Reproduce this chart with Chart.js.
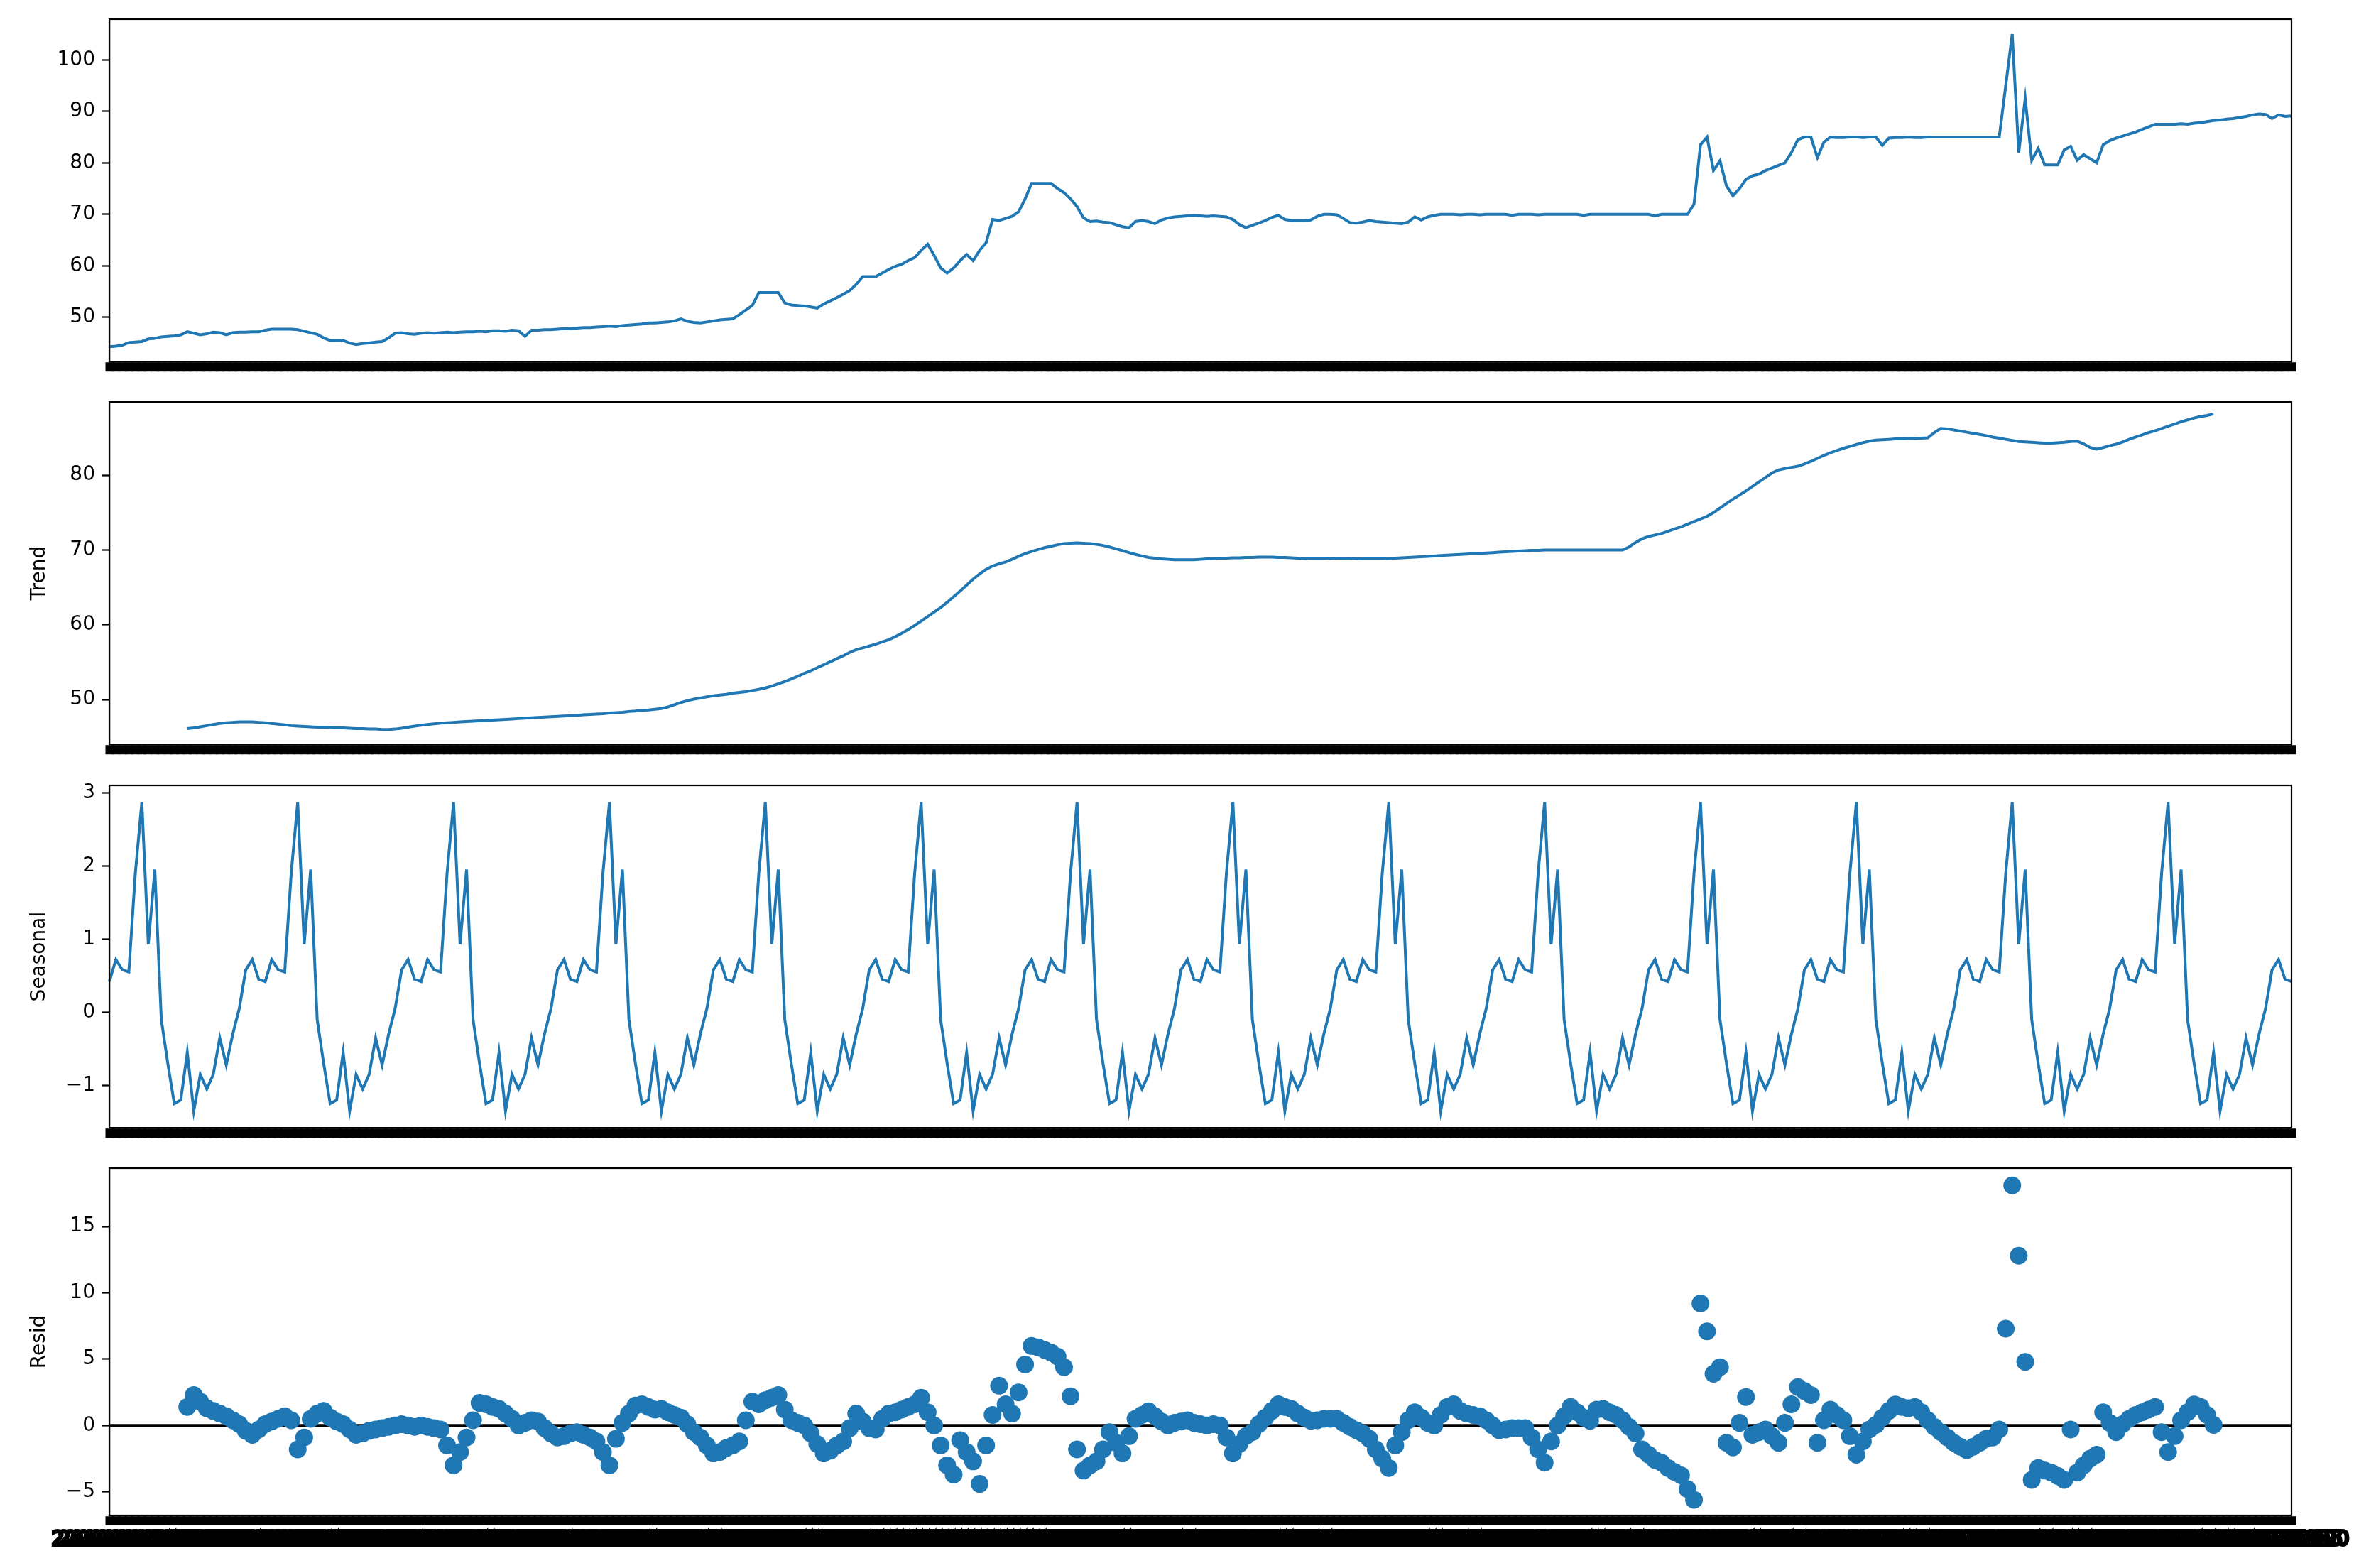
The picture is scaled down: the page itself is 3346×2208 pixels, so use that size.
<!DOCTYPE html>
<html>
<head>
<meta charset="utf-8">
<script src="https://cdn.jsdelivr.net/npm/chart.js@4.4.1/dist/chart.umd.min.js"></script>
<style>
  body { margin: 0; background: #fff; width: 3346px; height: 2208px; position: relative; overflow: hidden; }
  canvas { position: absolute; left: 0; }
</style>
</head>
<body>
<canvas id="obs"></canvas>
<canvas id="trd"></canvas>
<canvas id="sea"></canvas>
<canvas id="res"></canvas>
<script>
// observed series, one value per period step
const observed = [
  44.3,44.4,44.6,45.1,45.2,45.3,45.8,45.9,46.2,46.3,46.4,46.6,
  47.2,46.9,46.6,46.8,47.1,47.0,46.6,47.0,47.1,47.1,47.2,47.2,
  47.5,47.7,47.7,47.7,47.7,47.6,47.3,47.0,46.7,46.0,45.5,45.5,
  45.5,45.0,44.7,44.9,45.0,45.2,45.3,46.0,46.9,47.0,46.8,46.7,
  46.9,47.0,46.9,47.0,47.1,47.0,47.1,47.2,47.2,47.3,47.2,47.4,
  47.4,47.3,47.5,47.4,46.3,47.5,47.5,47.6,47.6,47.7,47.8,47.8,
  47.9,48.0,48.0,48.1,48.2,48.3,48.2,48.4,48.5,48.6,48.7,48.9,
  48.9,49.0,49.1,49.3,49.7,49.2,49.0,48.9,49.1,49.3,49.5,49.6,
  49.7,50.5,51.4,52.3,54.8,54.8,54.8,54.8,52.8,52.4,52.3,52.2,
  52.0,51.8,52.6,53.2,53.8,54.5,55.2,56.4,57.9,57.9,57.9,58.6,
  59.3,59.9,60.3,61.0,61.6,63.0,64.2,62.0,59.6,58.6,59.6,61.0,
  62.2,61.0,63.0,64.5,69.0,68.8,69.2,69.6,70.5,73.0,76.0,76.0,
  76.0,76.0,75.0,74.2,73.0,71.5,69.3,68.6,68.7,68.5,68.4,68.0,
  67.6,67.4,68.6,68.8,68.6,68.2,68.9,69.3,69.5,69.6,69.7,69.8,
  69.7,69.6,69.7,69.6,69.5,69.0,68.0,67.4,67.9,68.3,68.8,69.4,
  69.8,69.0,68.8,68.8,68.8,68.9,69.6,70.0,70.0,69.9,69.2,68.4,
  68.3,68.5,68.8,68.6,68.5,68.4,68.3,68.2,68.5,69.5,68.9,69.5,
  69.8,70.0,70.0,70.0,69.9,70.0,70.0,69.9,70.0,70.0,70.0,70.0,
  69.8,70.0,70.0,70.0,69.9,70.0,70.0,70.0,70.0,70.0,70.0,69.8,
  70.0,70.0,70.0,70.0,70.0,70.0,70.0,70.0,70.0,70.0,69.7,70.0,
  70.0,70.0,70.0,70.0,72.0,83.5,85.0,78.5,80.4,75.5,73.6,75.0,
  76.8,77.5,77.8,78.5,79.0,79.5,80.0,82.0,84.5,85.0,85.0,81.0,
  84.0,85.0,84.9,84.9,85.0,85.0,84.9,85.0,85.0,83.4,84.8,84.9,
  84.9,85.0,84.9,84.9,85.0,85.0,85.0,85.0,85.0,85.0,85.0,85.0,
  85.0,85.0,85.0,85.0,95.0,105.0,82.0,92.5,80.5,82.8,79.6,79.6,
  79.6,82.5,83.2,80.5,81.6,80.8,80.0,83.5,84.3,84.8,85.2,85.6,
  86.0,86.5,87.0,87.5,87.5,87.5,87.5,87.6,87.5,87.7,87.8,88.0,
  88.2,88.3,88.5,88.6,88.8,89.0,89.3,89.5,89.4,88.6,89.3,89.0,
  89.1
];

// trend, defined from index 12 to 324 (half a period missing at each end)
const trendValues = [
  46.1,46.2,46.35,46.5,46.65,46.8,46.9,46.95,47.0,47.0,47.0,46.95,
  46.9,46.8,46.7,46.6,46.5,46.45,46.4,46.35,46.3,46.3,46.25,46.2,
  46.2,46.15,46.1,46.1,46.05,46.05,46.0,46.0,46.05,46.15,46.3,46.45,
  46.55,46.65,46.75,46.85,46.9,46.95,47.0,47.05,47.1,47.15,47.2,47.25,
  47.3,47.35,47.4,47.45,47.5,47.55,47.6,47.65,47.7,47.75,47.8,47.85,
  47.9,47.95,48.0,48.05,48.1,48.2,48.25,48.3,48.4,48.45,48.55,48.6,
  48.7,48.8,49.0,49.3,49.6,49.85,50.05,50.2,50.35,50.5,50.6,50.7,
  50.85,50.95,51.05,51.2,51.35,51.55,51.8,52.1,52.4,52.75,53.1,53.5,
  53.85,54.25,54.65,55.05,55.45,55.85,56.3,56.65,56.9,57.15,57.4,57.7,
  58.0,58.4,58.85,59.35,59.9,60.5,61.1,61.7,62.3,63.0,63.75,64.5,
  65.3,66.1,66.8,67.4,67.85,68.15,68.4,68.75,69.15,69.5,69.8,70.05,
  70.3,70.5,70.7,70.85,70.9,70.95,70.9,70.85,70.75,70.6,70.4,70.15,
  69.9,69.65,69.4,69.2,69.0,68.9,68.8,68.75,68.7,68.7,68.7,68.7,
  68.75,68.8,68.85,68.9,68.9,68.95,68.95,69.0,69.0,69.05,69.05,69.05,
  69.0,69.0,68.95,68.9,68.85,68.8,68.8,68.8,68.85,68.9,68.9,68.9,
  68.85,68.8,68.8,68.8,68.8,68.85,68.9,68.95,69.0,69.05,69.1,69.15,
  69.2,69.25,69.3,69.35,69.4,69.45,69.5,69.55,69.6,69.65,69.7,69.75,
  69.8,69.85,69.9,69.95,69.95,70.0,70.0,70.0,70.0,70.0,70.0,70.0,
  70.0,70.0,70.0,70.0,70.0,70.0,70.4,71.0,71.5,71.8,72.0,72.2,
  72.5,72.8,73.1,73.45,73.8,74.15,74.5,75.0,75.6,76.2,76.8,77.35,
  77.9,78.5,79.1,79.7,80.3,80.7,80.9,81.05,81.2,81.5,81.85,82.25,
  82.65,83.0,83.3,83.6,83.85,84.1,84.35,84.55,84.7,84.75,84.8,84.85,
  84.85,84.9,84.9,84.95,85.0,85.7,86.25,86.2,86.05,85.9,85.75,85.6,
  85.45,85.3,85.1,84.95,84.8,84.65,84.5,84.45,84.4,84.35,84.3,84.3,
  84.35,84.4,84.5,84.55,84.2,83.7,83.5,83.7,83.95,84.15,84.45,84.8,
  85.1,85.4,85.7,85.95,86.25,86.55,86.85,87.15,87.4,87.65,87.85,88.0,
  88.2
];

// one seasonal cycle (24 steps), repeated over the whole series
const seasonalCycle = [
  0.42,0.72,0.58,0.55,1.9,2.87,0.93,1.95,-0.1,-0.7,-1.25,-1.2,
  -0.55,-1.35,-0.85,-1.05,-0.85,-0.35,-0.72,-0.3,0.05,0.58,0.72,0.45
];

// residuals, same span as the trend
const residValues = [
  1.4,2.3,1.8,1.3,1.1,0.9,0.7,0.4,0.1,-0.4,-0.7,-0.3,
  0.1,0.3,0.5,0.7,0.4,-1.8,-0.9,0.5,0.9,1.1,0.6,0.3,
  0.1,-0.3,-0.7,-0.6,-0.4,-0.3,-0.2,-0.1,0.0,0.1,0.0,-0.1,
  0.0,-0.1,-0.2,-0.3,-1.5,-3.0,-2.0,-0.9,0.4,1.7,1.6,1.4,
  1.25,0.9,0.5,0.0,0.2,0.4,0.3,-0.2,-0.6,-0.9,-0.8,-0.6,
  -0.5,-0.7,-0.9,-1.2,-2.0,-3.0,-1.0,0.2,0.9,1.5,1.6,1.4,
  1.2,1.25,1.0,0.8,0.6,0.1,-0.5,-0.9,-1.5,-2.1,-2.0,-1.7,
  -1.5,-1.2,0.4,1.8,1.6,1.9,2.1,2.3,1.2,0.4,0.2,0.0,
  -0.6,-1.4,-2.1,-1.9,-1.5,-1.2,-0.2,0.9,0.3,-0.2,-0.3,0.5,
  0.9,1.0,1.2,1.4,1.6,2.1,1.0,0.0,-1.5,-3.0,-3.7,-1.1,
  -2.0,-2.7,-4.4,-1.5,0.8,3.0,1.6,0.9,2.5,4.6,6.0,5.9,
  5.7,5.5,5.2,4.4,2.2,-1.8,-3.4,-3.0,-2.7,-1.8,-0.5,-1.3,
  -2.1,-0.8,0.5,0.8,1.07,0.7,0.3,0.0,0.2,0.3,0.4,0.2,
  0.1,0.0,0.1,0.0,-0.9,-2.1,-1.4,-0.8,-0.5,0.1,0.6,1.1,
  1.6,1.4,1.25,0.9,0.6,0.36,0.4,0.5,0.5,0.5,0.2,-0.1,
  -0.35,-0.6,-1.0,-1.8,-2.5,-3.2,-1.5,-0.5,0.4,1.0,0.6,0.2,
  0.0,0.8,1.4,1.6,1.1,0.9,0.8,0.7,0.4,0.0,-0.35,-0.3,
  -0.2,-0.2,-0.2,-0.9,-1.8,-2.8,-1.2,0.0,0.7,1.4,1.0,0.6,
  0.36,1.2,1.25,1.0,0.8,0.4,-0.1,-0.6,-1.8,-2.2,-2.6,-2.8,
  -3.2,-3.5,-3.75,-4.8,-5.6,9.2,7.1,3.9,4.4,-1.3,-1.65,0.2,
  2.15,-0.7,-0.5,-0.3,-0.8,-1.3,0.2,1.6,2.9,2.6,2.3,-1.3,
  0.4,1.2,0.8,0.4,-0.8,-2.2,-1.2,-0.3,0.05,0.6,1.1,1.58,
  1.4,1.3,1.4,1.0,0.4,-0.1,-0.5,-0.9,-1.3,-1.6,-1.85,-1.6,
  -1.3,-1.0,-0.9,-0.3,7.3,18.1,12.8,4.8,-4.1,-3.2,-3.4,-3.55,
  -3.8,-4.1,-0.3,-3.55,-3.0,-2.5,-2.2,1.0,0.2,-0.5,0.1,0.5,
  0.8,1.0,1.2,1.4,-0.5,-2.0,-0.8,0.4,1.0,1.58,1.4,0.8,
  0.05
];

const halfPeriod = 12;
const startDate = Date.UTC(2009, 0, 1);
const dayStep = 15;

// date labels for the category axis
const dates = [];
for (let i = 0; i < observed.length; i++) {
  dates.push(new Date(startDate + i * dayStep * 86400000).toISOString().slice(0, 10));
}

const gap = new Array(halfPeriod).fill(null);
const trend = gap.concat(trendValues, gap);
const resid = gap.concat(residValues, gap);
const seasonal = observed.map((v, i) => seasonalCycle[i % seasonalCycle.length]);
const zeroLine = observed.map(() => 0);

const blue = '#1f77b4';
const tickFont = { family: 'DejaVu Sans', size: 28 };
Chart.defaults.font.family = 'DejaVu Sans';

// draws the top and right spines
const frame = {
  id: 'frame',
  afterDatasetsDraw(chart) {
    const { ctx, chartArea: a } = chart;
    ctx.save();
    ctx.strokeStyle = '#000';
    ctx.lineWidth = 2.2;
    ctx.strokeRect(a.left, a.top, a.right - a.left, a.bottom - a.top);
    ctx.restore();
  }
};

function lineSet(data) {
  return { data: data, borderColor: blue, borderWidth: 4, pointRadius: 0, fill: false, tension: 0 };
}

function panel(id, top, height, last, datasets, ymin, ymax, step, title) {
  const cv = document.getElementById(id);
  cv.width = 3346;
  cv.height = height;
  cv.style.top = (top - 30) + 'px';
  return new Chart(cv, {
    type: 'line',
    data: { labels: dates, datasets: datasets },
    options: {
      responsive: false,
      animation: false,
      events: [],
      layout: { padding: { top: 30, left: 0, right: 119, bottom: last ? 10 : 7 } },
      plugins: { legend: { display: false }, tooltip: { enabled: false } },
      scales: {
        x: {
          type: 'category',
          grid: { drawOnChartArea: false, drawTicks: true, tickLength: 14, tickWidth: 12, tickColor: '#000' },
          border: { display: true, color: '#000', width: 2.2 },
          ticks: last
            ? { display: true, autoSkip: false, maxRotation: 0, minRotation: 0, padding: 4, color: '#000',
                textStrokeColor: '#000', textStrokeWidth: 4, font: tickFont }
            : { display: false },
          afterFit: function (s) { s.height = last ? 60 : 13; }
        },
        y: {
          min: ymin,
          max: ymax,
          grid: { drawOnChartArea: false, drawTicks: true, tickLength: 10, tickWidth: 2.2, tickColor: '#000' },
          border: { display: true, color: '#000', width: 2.2 },
          ticks: {
            stepSize: step,
            includeBounds: false,
            padding: 10,
            color: '#000',
            font: tickFont,
            callback: function (v) { return String(v).replace('-', '\u2212'); }
          },
          title: title
            ? { display: true, text: title, color: '#000', font: tickFont, padding: { top: 39, bottom: 0 } }
            : { display: false },
          afterFit: function (s) { s.width = 154; }
        }
      }
    },
    plugins: [frame]
  });
}

panel('obs', 27, 539, false, [lineSet(observed)], 41.4, 107.9, 10, null);
panel('trd', 566, 539, false, [lineSet(trend)], 44.0, 89.8, 10, 'Trend');
panel('sea', 1106, 539, false, [lineSet(seasonal)], -1.58, 3.1, 1, 'Seasonal');
panel('res', 1645, 589, true, [
  { data: resid, showLine: false, pointRadius: 12.5, pointBorderWidth: 0, pointBackgroundColor: blue, borderColor: blue, order: 1 },
  { data: zeroLine, borderColor: '#000', borderWidth: 4, pointRadius: 0, order: 2 }
], -6.78, 19.4, 5, 'Resid');
</script>
</body>
</html>
